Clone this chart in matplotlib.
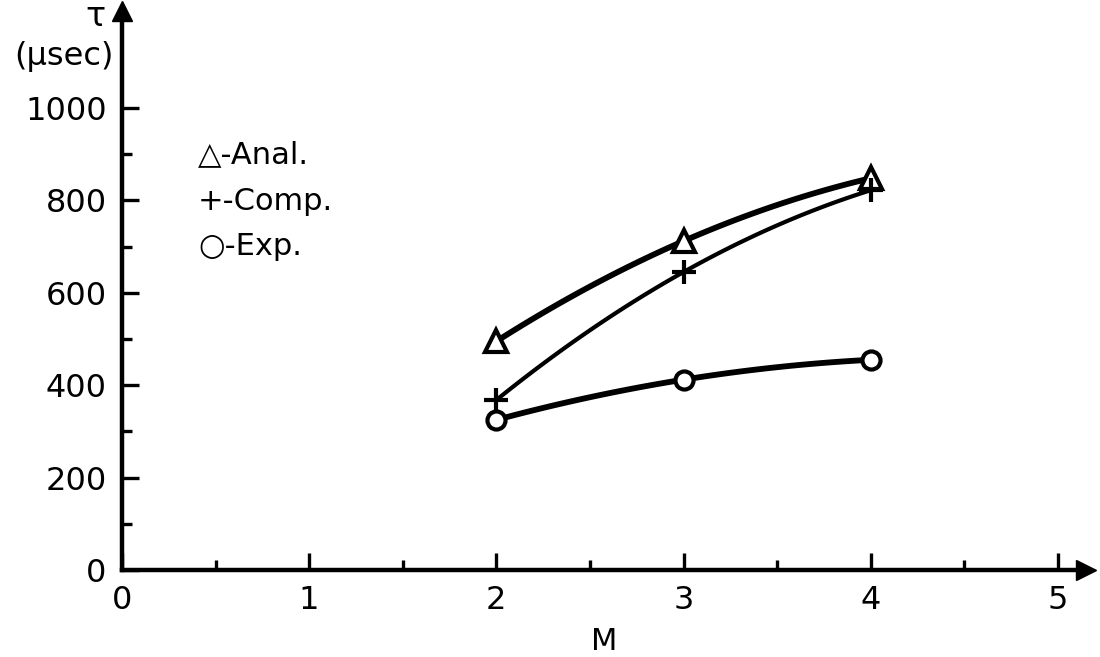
import numpy as np
import matplotlib
matplotlib.use("Agg")
import matplotlib.pyplot as plt

# Values
m_values = [2, 3, 4]
tau_anal = [495, 712, 848]
tau_comp = [368, 645, 822]
tau_exp = [325, 412, 455]

x_ticks = [0, 1, 2, 3, 4, 5]
y_ticks = [0, 200, 400, 600, 800, 1000]

plt.rcParams['font.family'] = ['DejaVu Sans']

fig = plt.figure(figsize=(11, 6.57), dpi=100)
ax = fig.add_axes([122 / 1100, 87 / 657, (1086 - 122) / 1100, (570 - 11) / 657])
ax.set_xlim(0, 5.15)
ax.set_ylim(0, 1210)


def smooth(xs, ys):
    # quadratic curve through the three measured points, for drawing only
    coef = np.polyfit(xs, ys, 2)
    xx = np.linspace(xs[0], xs[-1], 100)
    return xx, np.polyval(coef, xx)


series = [
    (tau_anal, '^', 4.2, 16, 'Anal.'),
    (tau_comp, '+', 3.0, 17, 'Comp.'),
    (tau_exp, 'o', 4.2, 13, 'Exp.'),
]
for ys, mk, lw, ms, name in series:
    xx, yy = smooth(m_values, ys)
    ax.plot(xx, yy, color='black', lw=lw, solid_capstyle='round', zorder=2)
    ax.plot(m_values, ys, linestyle='none', marker=mk, markersize=ms,
            markerfacecolor='white', markeredgecolor='black',
            markeredgewidth=3.0, zorder=3, clip_on=False)

# axes with arrow heads
for side in ['top', 'right']:
    ax.spines[side].set_visible(False)
for side in ['left', 'bottom']:
    ax.spines[side].set_linewidth(3.2)
ax.plot(1, 0, '>k', markersize=15, transform=ax.get_yaxis_transform(), clip_on=False)
ax.plot(0, 1, '^k', markersize=15, transform=ax.get_xaxis_transform(), clip_on=False)

ax.set_xticks(x_ticks)
ax.set_xticklabels([str(v) for v in x_ticks])
ax.set_xticks(np.arange(0.5, 5, 1.0), minor=True)
ax.set_yticks(y_ticks)
ax.set_yticklabels([str(v) for v in y_ticks])
ax.set_yticks(np.arange(100, 1000, 200), minor=True)
ax.tick_params(axis='both', which='major', direction='in', length=12, width=2.4,
               labelsize=23, pad=11)
ax.tick_params(axis='both', which='minor', direction='in', length=7, width=2.4)

ax.set_xlabel('M', fontsize=22, labelpad=8)
fig.text(95 / 1100, 1 - 16 / 657, 'τ', fontsize=24, ha='center', va='center')
fig.text(64 / 1100, 1 - 56 / 657, '(μsec)', fontsize=23, ha='center', va='center')

legend_lines = ['△-Anal.', '+-Comp.', '○-Exp.']
for i, txt in enumerate(legend_lines):
    fig.text(198 / 1100, 1 - (155 + i * 46) / 657, txt, fontsize=22,
             ha='left', va='center')

fig.savefig('out.png', dpi=100)
